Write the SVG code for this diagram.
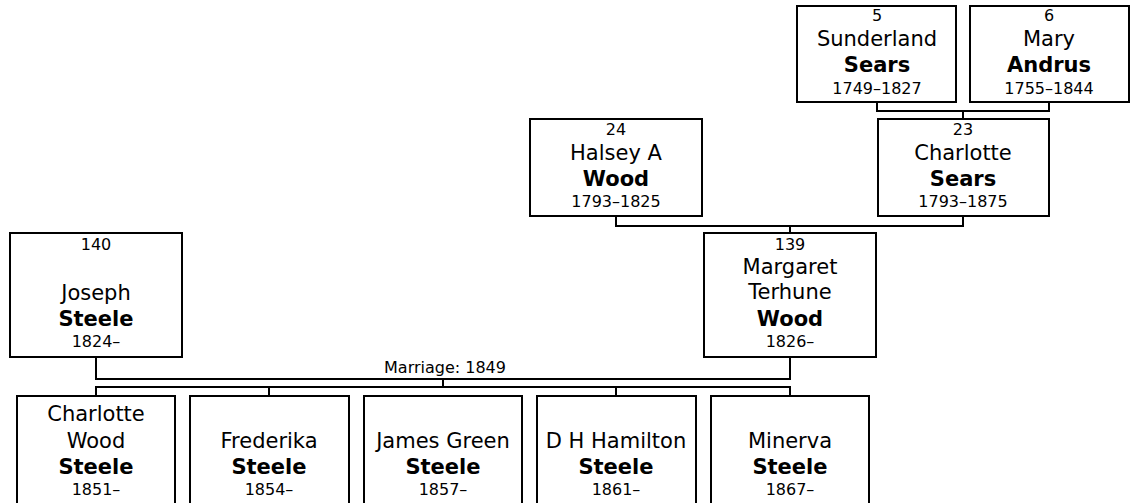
<svg xmlns="http://www.w3.org/2000/svg" width="1131" height="503" viewBox="0 0 1131 503">
<style>
.box{fill:#fff;stroke:#000;stroke-width:2}
.c{fill:none;stroke:#000;stroke-width:2}
text{font-family:"DejaVu Sans",Verdana,sans-serif;fill:#000;text-anchor:middle}
.s{font-size:16px}
.n{font-size:21px}
.b{font-size:21px;font-weight:bold}
</style>
<rect width="1131" height="503" fill="#fff"/>
<g id="connectors">
<path class="c" d="M877,103 V111 H1049 V103 M963,111 V118"/>
<path class="c" d="M616,217 V226 H963 V217 M790,226 V232"/>
<path class="c" d="M96,358 V379 H790 V358 M443,379 V387"/>
<path class="c" d="M96,395 V387 H790 V395 M269,387 V395 M616,387 V395"/>
<text class="s" x="445" y="373">Marriage: 1849</text>
</g>
<g id="p5">
<rect class="box" x="797" y="6" width="159" height="96"/>
<text class="s" x="877" y="21">5</text>
<text class="n" x="877" y="46">Sunderland</text>
<text class="b" x="877" y="72">Sears</text>
<text class="s" x="877" y="94">1749–1827</text>
</g>
<g id="p6">
<rect class="box" x="970" y="6" width="159" height="96"/>
<text class="s" x="1049" y="21">6</text>
<text class="n" x="1049" y="46">Mary</text>
<text class="b" x="1049" y="72">Andrus</text>
<text class="s" x="1049" y="94">1755–1844</text>
</g>
<g id="p24">
<rect class="box" x="530" y="119" width="172" height="97"/>
<text class="s" x="616" y="135">24</text>
<text class="n" x="616" y="160">Halsey A</text>
<text class="b" x="616" y="186">Wood</text>
<text class="s" x="616" y="207">1793–1825</text>
</g>
<g id="p23">
<rect class="box" x="878" y="119" width="171" height="97"/>
<text class="s" x="963" y="135">23</text>
<text class="n" x="963" y="160">Charlotte</text>
<text class="b" x="963" y="186">Sears</text>
<text class="s" x="963" y="207">1793–1875</text>
</g>
<g id="p140">
<rect class="box" x="10" y="233" width="172" height="124"/>
<text class="s" x="96" y="250">140</text>
<text class="n" x="96" y="300">Joseph</text>
<text class="b" x="96" y="326">Steele</text>
<text class="s" x="96" y="347">1824–</text>
</g>
<g id="p139">
<rect class="box" x="704" y="233" width="172" height="124"/>
<text class="s" x="790" y="250">139</text>
<text class="n" x="790" y="274">Margaret</text>
<text class="n" x="790" y="299">Terhune</text>
<text class="b" x="790" y="326">Wood</text>
<text class="s" x="790" y="347">1826–</text>
</g>
<g id="c1">
<rect class="box" x="17" y="396" width="158" height="130"/>
<text class="n" x="96" y="421">Charlotte</text>
<text class="n" x="96" y="448">Wood</text>
<text class="b" x="96" y="474">Steele</text>
<text class="s" x="96" y="495">1851–</text>
</g>
<g id="c2">
<rect class="box" x="190" y="396" width="159" height="130"/>
<text class="n" x="269" y="448">Frederika</text>
<text class="b" x="269" y="474">Steele</text>
<text class="s" x="269" y="495">1854–</text>
</g>
<g id="c3">
<rect class="box" x="364" y="396" width="158" height="130"/>
<text class="n" x="443" y="448">James Green</text>
<text class="b" x="443" y="474">Steele</text>
<text class="s" x="443" y="495">1857–</text>
</g>
<g id="c4">
<rect class="box" x="537" y="396" width="159" height="130"/>
<text class="n" x="616" y="448">D H Hamilton</text>
<text class="b" x="616" y="474">Steele</text>
<text class="s" x="616" y="495">1861–</text>
</g>
<g id="c5">
<rect class="box" x="711" y="396" width="158" height="130"/>
<text class="n" x="790" y="448">Minerva</text>
<text class="b" x="790" y="474">Steele</text>
<text class="s" x="790" y="495">1867–</text>
</g>
</svg>
